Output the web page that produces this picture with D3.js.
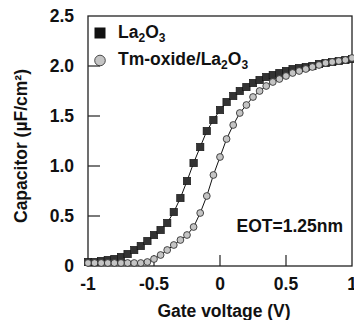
<!DOCTYPE html>
<html>
<head>
<meta charset="utf-8">
<script src="https://cdn.jsdelivr.net/npm/d3@7"></script>
<style>
  body { margin: 0; background: #fff; }
  text { font-family: "Liberation Sans", Arial, sans-serif; font-weight: bold; fill: #111; }
</style>
</head>
<body>
<svg id="chart"></svg>
<script>
const voltage = [-1, -0.95, -0.9, -0.85, -0.8, -0.75, -0.7, -0.65, -0.6, -0.55, -0.5, -0.45, -0.4, -0.35, -0.3, -0.25, -0.2, -0.15, -0.1, -0.05,
  0, 0.05, 0.1, 0.15, 0.2, 0.25, 0.3, 0.35, 0.4, 0.45, 0.5, 0.55, 0.6, 0.65, 0.7, 0.75, 0.8, 0.85, 0.9, 0.95, 1];
const la2o3 = [0.04, 0.04, 0.05, 0.06, 0.07, 0.09, 0.12, 0.16, 0.2, 0.25, 0.31, 0.36, 0.43, 0.54, 0.68, 0.85, 1.03, 1.19, 1.35, 1.46,
  1.56, 1.64, 1.7, 1.75, 1.79, 1.83, 1.86, 1.89, 1.91, 1.93, 1.95, 1.97, 1.98, 1.99, 2.0, 2.02, 2.03, 2.04, 2.05, 2.06, 2.07];
const tmOxide = [0.03, 0.03, 0.03, 0.03, 0.03, 0.03, 0.03, 0.03, 0.03, 0.04, 0.07, 0.11, 0.16, 0.21, 0.26, 0.31, 0.39, 0.53, 0.7, 0.91,
  1.09, 1.27, 1.41, 1.53, 1.61, 1.69, 1.75, 1.8, 1.84, 1.87, 1.9, 1.93, 1.95, 1.97, 1.99, 2.01, 2.03, 2.04, 2.05, 2.06, 2.08];
const xTicks = [-1, -0.5, 0, 0.5, 1];
const xTickLabels = ["-1", "-0.5", "0", "0.5", "1"];
const yTicks = [0, 0.5, 1.0, 1.5, 2.0, 2.5];
const yTickLabels = ["0", "0.5", "1.0", "1.5", "2.0", "2.5"];

const margin = { top: 16, right: 2, bottom: 54, left: 88 },
  width = 354 - margin.left - margin.right,
  height = 320 - margin.top - margin.bottom;

const fs = "17.5px";

const svg = d3.select("#chart")
  .attr("width", 354)
  .attr("height", 320)
  .append("g")
  .attr("transform", `translate(${margin.left},${margin.top})`);

const x = d3.scaleLinear().domain([-1, 1]).range([0, width]);
const y = d3.scaleLinear().domain([0, 2.5]).range([height, 0]);

// frame
svg.append("rect")
  .attr("width", width)
  .attr("height", height)
  .attr("fill", "none")
  .attr("stroke", "#222")
  .attr("stroke-width", 1.3);

// inward ticks
svg.selectAll(".ytick")
  .data(yTicks.slice(1, -1))
  .enter()
  .append("line")
  .attr("x1", 0).attr("x2", 12)
  .attr("y1", (d) => y(d)).attr("y2", (d) => y(d))
  .attr("stroke", "#222").attr("stroke-width", 1.2);

svg.selectAll(".xtick")
  .data(xTicks.slice(1, -1))
  .enter()
  .append("line")
  .attr("x1", (d) => x(d)).attr("x2", (d) => x(d))
  .attr("y1", height).attr("y2", height - 11)
  .attr("stroke", "#222").attr("stroke-width", 1.2);

svg.selectAll(".ylabel")
  .data(yTicks)
  .enter()
  .append("text")
  .attr("x", -14)
  .attr("y", (d) => y(d))
  .attr("dy", "0.36em")
  .attr("text-anchor", "end")
  .style("font-size", fs)
  .text((d, i) => yTickLabels[i]);

svg.selectAll(".xlabel")
  .data(xTicks)
  .enter()
  .append("text")
  .attr("x", (d) => x(d))
  .attr("y", height + 24)
  .attr("text-anchor", "middle")
  .style("font-size", fs)
  .text((d, i) => xTickLabels[i]);

svg.append("text")
  .attr("x", x(0) + 4)
  .attr("y", height + 51)
  .attr("text-anchor", "middle")
  .style("font-size", fs)
  .text("Gate voltage (V)");

svg.append("text")
  .attr("transform", `translate(${-margin.left + 27},${y(1.2)}) rotate(-90)`)
  .attr("text-anchor", "middle")
  .style("font-size", fs)
  .text("Capacitor (\u00b5F/cm\u00b2)");

svg.append("text")
  .attr("x", width - 9)
  .attr("y", y(0.34))
  .attr("text-anchor", "end")
  .style("font-size", fs)
  .text("EOT=1.25nm");

// series
const line = d3.line()
  .x((d) => x(d[0]))
  .y((d) => y(d[1]));

const sq = voltage.map((v, i) => [v, la2o3[i]]);
const ci = voltage.map((v, i) => [v, tmOxide[i]]);

svg.append("path").datum(sq).attr("d", line)
  .attr("fill", "none").attr("stroke", "#111").attr("stroke-width", 1);
svg.append("path").datum(ci).attr("d", line)
  .attr("fill", "none").attr("stroke", "#111").attr("stroke-width", 1);

svg.selectAll(".sq")
  .data(sq)
  .enter()
  .append("rect")
  .attr("x", (d) => x(d[0]) - 3.7)
  .attr("y", (d) => y(d[1]) - 3.7)
  .attr("width", 7.4)
  .attr("height", 7.4)
  .attr("fill", "#333")
  .attr("stroke", "#111")
  .attr("stroke-width", 0.6);

svg.selectAll(".ci")
  .data(ci)
  .enter()
  .append("circle")
  .attr("cx", (d) => x(d[0]))
  .attr("cy", (d) => y(d[1]))
  .attr("r", 3.4)
  .attr("fill", "#c4c4c4")
  .attr("stroke", "#222")
  .attr("stroke-width", 0.8);

// legend
const sub = 'dy="4" style="font-size:12px"';
const legend = svg.append("g").attr("transform", "translate(12,0)");
legend.append("rect")
  .attr("x", -5.5).attr("y", 11.5)
  .attr("width", 11).attr("height", 11)
  .attr("fill", "#111");
legend.append("text")
  .attr("x", 18).attr("y", 22)
  .style("font-size", fs)
  .html(`La<tspan ${sub}>2</tspan><tspan dy="-4">O</tspan><tspan ${sub}>3</tspan>`);
legend.append("circle")
  .attr("cx", 0).attr("cy", 44.5)
  .attr("r", 5.3)
  .attr("fill", "#c4c4c4")
  .attr("stroke", "#222")
  .attr("stroke-width", 0.8);
legend.append("text")
  .attr("x", 18).attr("y", 49)
  .style("font-size", fs)
  .html(`Tm-oxide/La<tspan ${sub}>2</tspan><tspan dy="-4">O</tspan><tspan ${sub}>3</tspan>`);
</script>
</body>
</html>
